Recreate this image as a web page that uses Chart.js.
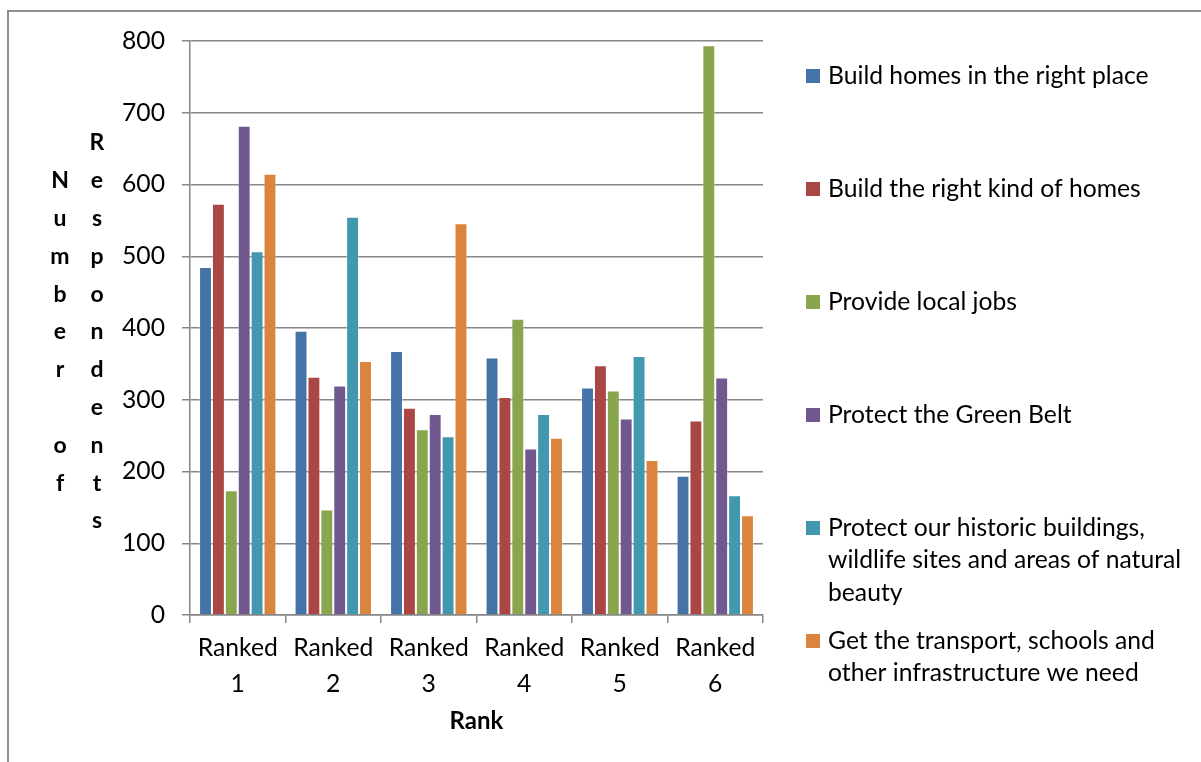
<!DOCTYPE html>
<html>
<head>
<meta charset="utf-8">
<script src="https://cdn.jsdelivr.net/npm/chart.js@4.4.0/dist/chart.umd.min.js"></script>
<style>
  html, body { margin: 0; padding: 0; background: #fff; overflow: hidden; }
  #frame { position: absolute; left: 7px; top: 10px; width: 1300px; height: 900px;
           border-top: 2px solid #8e8e8e; border-left: 2px solid #8e8e8e; }
  #wrap { position: absolute; left: 0; top: 0; width: 1201px; height: 762px; }
</style>
</head>
<body>
<div id="frame"></div>
<div id="wrap"><canvas id="chart"></canvas></div>
<script>
const categories = [['Ranked', '1'], ['Ranked', '2'], ['Ranked', '3'], ['Ranked', '4'], ['Ranked', '5'], ['Ranked', '6']];

const seriesNames = [
    'Build homes in the right place',
    'Build the right kind of homes',
    'Provide local jobs',
    'Protect the Green Belt',
    'Protect our historic buildings, wildlife sites and areas of natural beauty',
    'Get the transport, schools and other infrastructure we need'
];
// legend text broken the way the original wraps it
const legendLines = [
    ['Build homes in the right place'],
    ['Build the right kind of homes'],
    ['Provide local jobs'],
    ['Protect the Green Belt'],
    ['Protect our historic buildings,', 'wildlife sites and areas of natural', 'beauty'],
    ['Get the transport, schools and', 'other infrastructure we need']
];
const seriesColors = ['#4572A7', '#AA4643', '#89A54E', '#71588F', '#4198AF', '#DB843D'];

const buildHomesRightPlace = [485, 396, 368, 359, 317, 194];
const rightKindOfHomes = [573, 332, 289, 304, 348, 271];
const localJobs = [174, 147, 259, 413, 313, 794];
const greenBelt = [682, 320, 280, 232, 274, 331];
const historicSites = [507, 555, 249, 280, 361, 167];
const infrastructure = [615, 354, 546, 247, 216, 139];

const yMin = 0;
const yMax = 800;
const yStep = 100;
const yTitleColumns = ['Number of', 'Respondents'];
const xTitle = 'Rank';

const FONT = 'Lato, "Open Sans", sans-serif';
const AXIS_GREY = '#868686';

Chart.defaults.font.family = FONT;
Chart.defaults.color = '#000';

// y title: Excel squeezed it into two columns of single letters
const stackedTitle = {
    id: 'stackedTitle',
    afterDraw(chart) {
        const { ctx, chartArea } = chart;
        const step = 37.8;
        const midY = (chartArea.top + chartArea.bottom) / 2 + 4;
        const colX = [chartArea.left - 130, chartArea.left - 93];
        ctx.save();
        ctx.font = 'bold 23px ' + FONT;
        ctx.fillStyle = '#000';
        ctx.textAlign = 'center';
        ctx.textBaseline = 'middle';
        yTitleColumns.forEach((word, c) => {
            const letters = word.split('');
            const startY = midY - (letters.length - 1) * step / 2;
            letters.forEach((ch, i) => {
                if (ch !== ' ') ctx.fillText(ch, colX[c], startY + i * step);
            });
        });
        ctx.restore();
    }
};

const sideLegend = {
    id: 'sideLegend',
    afterDraw(chart) {
        const { ctx, chartArea } = chart;
        const boxX = chartArea.right + 43;
        const textX = chartArea.right + 65;
        const firstY = chartArea.top + 35;
        const itemStep = 113;
        const lineStep = 32.5;
        const box = 14;
        ctx.save();
        ctx.font = '24.7px ' + FONT;
        ctx.textAlign = 'left';
        ctx.textBaseline = 'middle';
        chart.data.datasets.forEach((ds, i) => {
            const y = firstY + i * itemStep;
            ctx.fillStyle = ds.backgroundColor;
            ctx.fillRect(boxX, y - box / 2, box, box);
            ctx.fillStyle = '#000';
            legendLines[i].forEach((line, j) => {
                ctx.fillText(line, textX, y + j * lineStep);
            });
        });
        ctx.restore();
    }
};

const seriesData = [buildHomesRightPlace, rightKindOfHomes, localJobs, greenBelt, historicSites, infrastructure];

const datasets = seriesNames.map((name, i) => ({
    label: name,
    data: seriesData[i],
    backgroundColor: seriesColors[i],
    borderColor: 'rgba(255,255,255,0.35)',
    borderWidth: { top: 1, left: 1, right: 1, bottom: 0 },
    borderSkipped: 'bottom',
    categoryPercentage: 0.81,
    barPercentage: 1.0
}));

new Chart(document.getElementById('chart').getContext('2d'), {
    type: 'bar',
    data: { labels: categories, datasets },
    options: {
        responsive: true,
        maintainAspectRatio: false,
        animation: false,
        layout: { padding: { top: 41, right: 438, left: 0, bottom: 0 } },
        plugins: {
            legend: { display: false },
            tooltip: { enabled: false }
        },
        scales: {
            x: {
                grid: {
                    offset: true,
                    drawOnChartArea: false,
                    drawTicks: true,
                    tickLength: 8,
                    color: AXIS_GREY,
                    lineWidth: 1.5
                },
                border: { display: true, color: AXIS_GREY, width: 1.5 },
                ticks: {
                    font: { size: 24.7, lineHeight: 1.42 },
                    color: '#000',
                    padding: 8,
                    maxRotation: 0,
                    autoSkip: false
                },
                title: {
                    display: true,
                    text: xTitle,
                    font: { size: 24, weight: 'bold' },
                    color: '#000',
                    padding: { top: 0, bottom: 26 }
                },
                afterFit(scale) { scale.height = 147; }
            },
            y: {
                min: yMin,
                max: yMax,
                grid: {
                    color: AXIS_GREY,
                    lineWidth: 1.5,
                    tickLength: 8
                },
                border: { display: true, color: AXIS_GREY, width: 1.5 },
                ticks: {
                    stepSize: yStep,
                    font: { size: 24.7 },
                    color: '#000',
                    padding: 17
                },
                afterFit(scale) { scale.width = 190; }
            }
        }
    },
    plugins: [stackedTitle, sideLegend]
});
</script>
</body>
</html>
